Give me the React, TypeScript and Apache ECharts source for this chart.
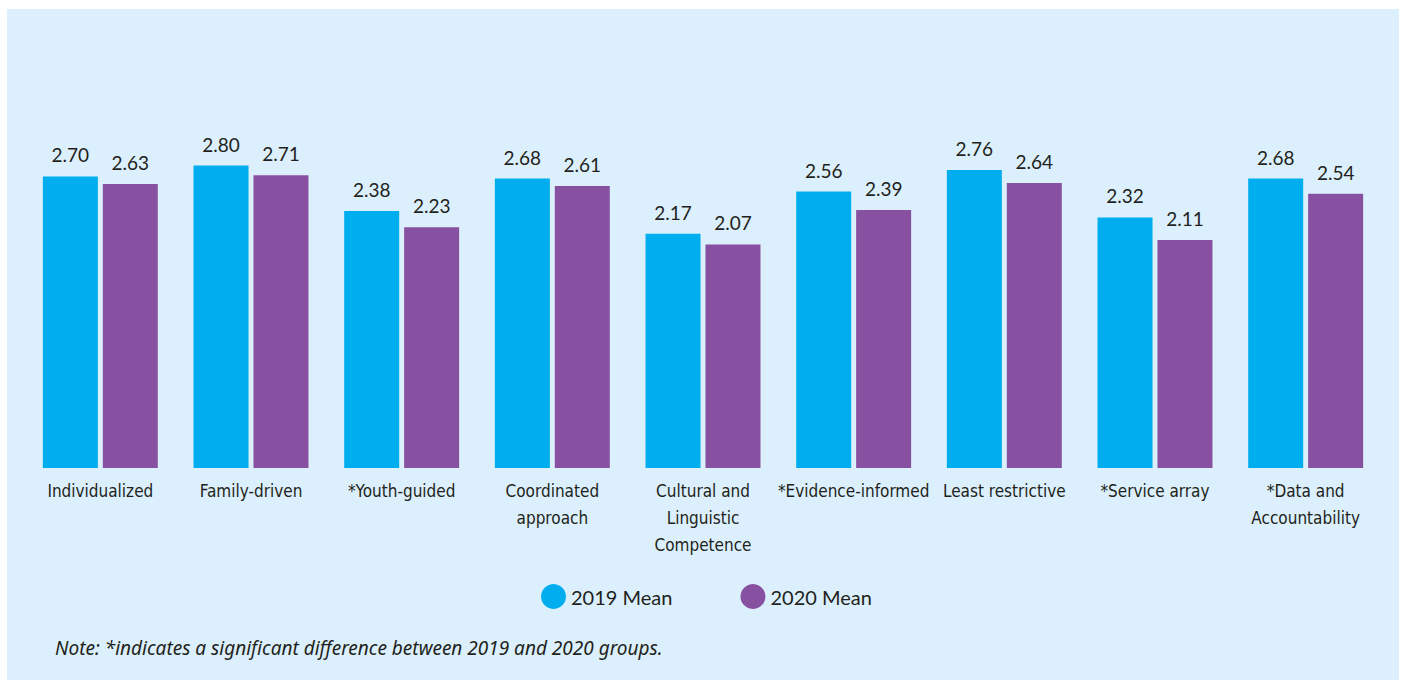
import React, { useEffect, useRef } from "react";
import * as echarts from "echarts";

const categories = [
  "Individualized",
  "Family-driven",
  "*Youth-guided",
  "Coordinated\napproach",
  "Cultural and\nLinguistic\nCompetence",
  "*Evidence-informed",
  "Least restrictive",
  "*Service array",
  "*Data and\nAccountability",
];
const mean2019 = [2.7, 2.8, 2.38, 2.68, 2.17, 2.56, 2.76, 2.32, 2.68];
const mean2020 = [2.63, 2.71, 2.23, 2.61, 2.07, 2.39, 2.64, 2.11, 2.54];
const seriesNames = ["2019 Mean", "2020 Mean"];
const noteText = "Note: *indicates a significant difference between 2019 and 2020 groups.";

const BLUE = "#00AEEF";
const PURPLE = "#8750A0";
const BG = "#DBF0FC";
const TEXT = "#231F20";

export default function App() {
  const ref = useRef<HTMLDivElement>(null);
  useEffect(() => {
    if (!ref.current) return;
    const chart = echarts.init(ref.current, null, { renderer: "svg" });
    const labelCfg = {
      show: true,
      position: "top",
      distance: 12,
      color: TEXT,
      fontFamily: "Lato",
      fontSize: 19,
      formatter: (p: any) => Number(p.value).toFixed(2),
    };
    chart.setOption({
      animation: false,
      backgroundColor: "#ffffff",
      graphic: [
        {
          type: "rect",
          z: -10,
          shape: { x: 7, y: 9, width: 1392, height: 680 },
          style: { fill: BG },
          silent: true,
        },
        {
          type: "text",
          left: 55,
          top: 638,
          style: {
            text: noteText,
            fill: TEXT,
            font: "italic 19px 'Noto Sans'",
          },
        },
      ],
      legend: {
        data: seriesNames,
        top: 579,
        left: 536,
        icon: "circle",
        itemWidth: 25,
        itemHeight: 25,
        itemGap: 68,
        textStyle: { color: TEXT, fontSize: 20, fontFamily: "Lato" },
      },
      grid: { left: 25, right: 22, top: 144, bottom: 212, containLabel: false },
      xAxis: {
        type: "category",
        data: categories,
        axisLine: { show: false },
        axisTick: { show: false },
        axisLabel: {
          color: TEXT,
          fontSize: 17,
          lineHeight: 27,
          margin: 9,
          interval: 0,
          fontFamily: "'DejaVu Sans Condensed', 'DejaVu Sans', sans-serif",
        },
      },
      yAxis: {
        type: "value",
        min: 0,
        max: 3,
        show: false,
        splitLine: { show: false },
      },
      series: [
        {
          name: seriesNames[0],
          type: "bar",
          data: mean2019,
          barWidth: 55,
          barGap: "9%",
          itemStyle: { color: BLUE },
          label: labelCfg,
        },
        {
          name: seriesNames[1],
          type: "bar",
          data: mean2020,
          barWidth: 55,
          barGap: "9%",
          itemStyle: { color: PURPLE },
          label: labelCfg,
        },
      ],
    });
    return () => chart.dispose();
  }, []);
  return (
    <div
      ref={ref}
      style={{ position: "fixed", left: 0, top: 0, width: 1403, height: 680 }}
    />
  );
}
